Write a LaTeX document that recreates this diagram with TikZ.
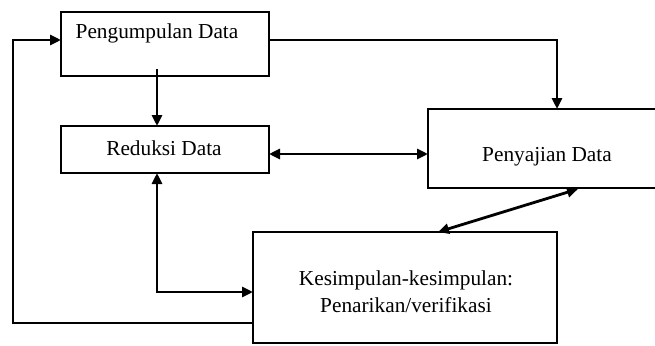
\documentclass[tikz,border=0pt]{standalone}
\usepackage{fontspec}
\setmainfont{Liberation Serif}
\usetikzlibrary{arrows.meta}
\begin{document}
\begin{tikzpicture}[x=1pt,y=-1pt,
  boxst/.style={draw,line width=2.8pt},
  lbl/.style={font=\fontsize{21.3}{27}\selectfont,inner sep=0pt,align=center},
  conn/.style={line width=2.8pt,-{Triangle[length=11pt,width=10pt]}},
  bconn/.style={line width=2.8pt,{Triangle[length=11pt,width=10pt]}-{Triangle[length=11pt,width=10pt]}}]
\useasboundingbox (0,0) rectangle (655,345);
% boxes
\draw[boxst] (61,12) rectangle (269,76);
\draw[boxst] (61,126) rectangle (269,173);
\draw[boxst] (428,109) rectangle (658,188);
\draw[boxst] (253,232) rectangle (557,343);
\coordinate (pA) at (61,40);
\coordinate (pB) at (269,40);
\coordinate (pIn) at (157,69);
\coordinate (rT) at (157,126);
\coordinate (rB) at (157,173);
\coordinate (rR) at (269,154);
\coordinate (sL) at (428,154);
\coordinate (sT) at (557,109);
\coordinate (sB) at (578,189);
\coordinate (kT) at (438,232);
\coordinate (kL1) at (253,292);
\coordinate (kL2) at (253,323);
% labels
\node[lbl] (tp) at (157,33) {Pengumpulan Data};
\node[lbl] (tr) at (164,148) {Reduksi Data};
\node[lbl] (ts) at (547,157) {Penyajian Data};
\node[lbl] (tk) at (406,292) {Kesimpulan-kesimpulan:\\Penarikan/verifikasi};
% connectors
\draw[conn] (pIn) -- (rT);
\draw[conn] (pB) -| (sT);
\draw[bconn] (rR) -- (sL);
\draw[bconn] (rB) |- (kL1);
\draw[bconn] (sB) -- (kT);
\draw[conn] (kL2) -| (13,40) -- (pA);
\end{tikzpicture}
\end{document}
